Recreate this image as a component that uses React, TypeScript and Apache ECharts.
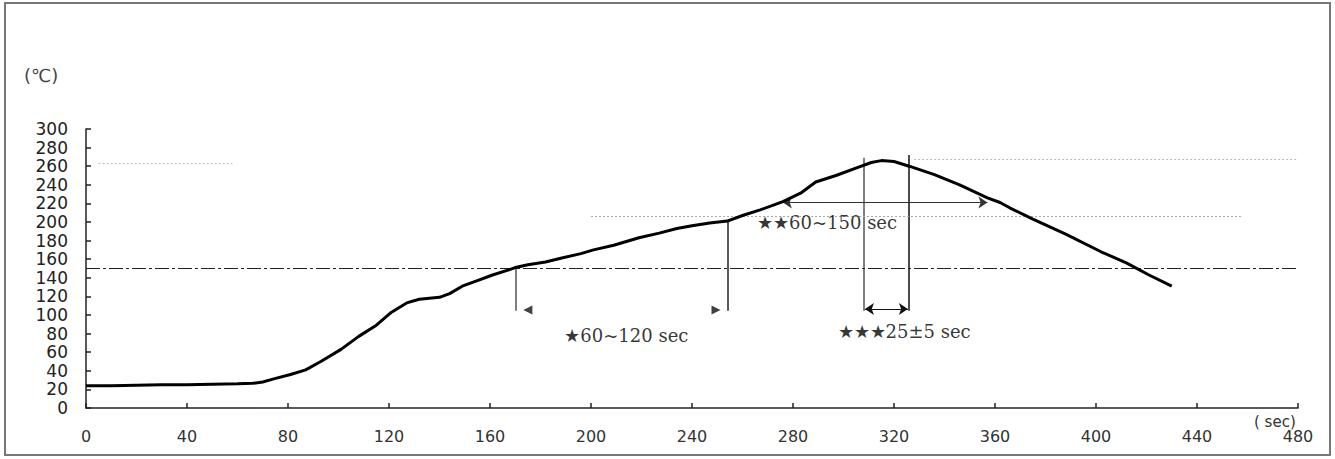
import React, { useEffect, useRef } from "react";
import * as echarts from "echarts";

// Reflow temperature profile (time in sec, temperature in °C)
const times = [0, 10, 20, 30, 40, 50, 60, 66, 70, 74, 81, 87, 93, 101, 108, 115, 121, 127, 132, 140, 144, 149, 155, 161, 168, 170, 175, 182, 188, 196, 201, 209, 214, 219, 227, 234, 240, 247, 254, 260, 267, 276, 283, 289, 297, 306, 311, 315, 320, 326, 336, 346, 357, 362, 366, 375, 388, 402, 412, 421, 430];
const temps = [24, 24, 24.5, 25, 25, 25.5, 26, 26.5, 28, 31, 36, 41, 50, 63, 77, 89, 103, 113, 117, 119, 123, 131, 137, 143, 149, 151, 154, 157, 161, 166, 170, 175, 179, 183, 188, 193, 196, 199, 201, 207, 213, 222, 231, 243, 250, 259, 264, 266, 265, 260, 251, 240, 226, 221, 215, 203, 187, 168, 156, 143, 131];

// Reference levels
const preheatTemp = 150;
const reflowTemp = 221;
const soakTopTemp = 206;
const peakTempLeft = 263;
const peakTempRight = 267;

// Windows (sec)
const preheatWindow = [170, 254];
const preheatTops = [151, 201];
const reflowWindow = [276, 357];
const peakWindow = [308, 326];
const peakTops = [269, 272];
const markerBottom = 104.5;
const arrowLevel = 105.5;
const peakArrowLevel = 106.5;
const preheatArrowTimes = [175, 249.5];

// Dotted guide spans (sec)
const leftPeakSpan = [5, 58];
const soakSpan = [200, 458];
const rightPeakSpan = [328, 480];

// Annotations
const annotationTexts = ["★60~120 sec", "★★60~150 sec", "★★★25±5 sec"];
const annotationTimes = [214, 293.5, 324];
const annotationTemps = [77.5, 200, 82];

// Axis ticks
const xMax = 480;
const xStep = 40;
const yMax = 300;
const yStep = 20;

export default function App() {
  const ref = useRef<HTMLDivElement>(null);

  useEffect(() => {
    document.body.style.margin = "0";
    if (!ref.current) return;
    const chart = echarts.init(ref.current, undefined, { renderer: "svg" });

    const profile = times.map((t, i) => [t, temps[i]]);

    const vertical = (t: number, top: number, color: string) => ({
      coords: [[t, top], [t, markerBottom]],
      lineStyle: { color, width: 1.5, type: "solid", opacity: 1 },
    });

    const option: any = {
      animation: false,
      backgroundColor: "#ffffff",
      grid: { left: 86, right: 37, top: 129, bottom: 51 },
      xAxis: {
        type: "value",
        min: 0,
        max: xMax,
        interval: xStep,
        axisLine: { lineStyle: { color: "#222", width: 1.5 } },
        axisTick: { inside: true, length: 5, lineStyle: { color: "#222", width: 1.5 } },
        axisLabel: { margin: 20, fontSize: 16, color: "#333", fontFamily: "DejaVu Sans" },
        splitLine: { show: false },
      },
      yAxis: {
        type: "value",
        min: 0,
        max: yMax,
        interval: yStep,
        axisLine: { show: true, lineStyle: { color: "#222", width: 1.5 } },
        axisTick: { show: true, inside: true, length: 5, lineStyle: { color: "#222", width: 1.5 } },
        axisLabel: { margin: 18, fontSize: 17, color: "#222", fontFamily: "DejaVu Sans" },
        splitLine: { show: false },
      },
      graphic: [
        {
          type: "rect",
          shape: { x: 5, y: 3, width: 1325, height: 452 },
          style: { fill: "none", stroke: "#777", lineWidth: 2 },
          silent: true,
        },
        {
          type: "text",
          left: 24,
          top: 66,
          style: { text: "(℃)", fontSize: 18, fill: "#444", fontFamily: "DejaVu Sans" },
        },
        {
          type: "text",
          left: 1254,
          top: 414,
          style: { text: "( sec)", fontSize: 15, fill: "#333", fontFamily: "DejaVu Sans" },
        },
      ],
      series: [
        {
          type: "line",
          data: profile,
          showSymbol: false,
          symbol: "none",
          lineStyle: { color: "#000", width: 3 },
          z: 5,
          markLine: {
            silent: true,
            symbol: ["none", "none"],
            label: { show: false },
            lineStyle: { color: "#222", width: 1.2, type: [14, 3, 3, 3] },
            data: [{ yAxis: preheatTemp }],
          },
        },
        {
          type: "lines",
          coordinateSystem: "cartesian2d",
          polyline: false,
          symbol: ["none", "none"],
          silent: true,
          z: 3,
          data: [
            vertical(preheatWindow[0], preheatTops[0], "#555"),
            vertical(preheatWindow[1], preheatTops[1], "#222"),
            vertical(peakWindow[0], peakTops[0], "#555"),
            vertical(peakWindow[1], peakTops[1], "#111"),
            {
              coords: [[leftPeakSpan[0], peakTempLeft], [leftPeakSpan[1], peakTempLeft]],
              lineStyle: { color: "#bbb", width: 1.2, type: [2, 2], opacity: 1 },
            },
            {
              coords: [[rightPeakSpan[0], peakTempRight], [rightPeakSpan[1], peakTempRight]],
              lineStyle: { color: "#bbb", width: 1.2, type: [2, 2], opacity: 1 },
            },
            {
              coords: [[soakSpan[0], soakTopTemp], [soakSpan[1], soakTopTemp]],
              lineStyle: { color: "#aaa", width: 1.2, type: [2, 2], opacity: 1 },
            },
          ],
        },
        {
          type: "lines",
          coordinateSystem: "cartesian2d",
          polyline: false,
          symbol: ["arrow", "arrow"],
          symbolSize: 9,
          silent: true,
          z: 4,
          data: [
            {
              coords: [[reflowWindow[0], reflowTemp], [reflowWindow[1], reflowTemp]],
              lineStyle: { color: "#333", width: 1.2, opacity: 1 },
            },
            {
              coords: [[peakWindow[0] + 0.5, peakArrowLevel], [peakWindow[1] - 0.5, peakArrowLevel]],
              lineStyle: { color: "#111", width: 1.2, opacity: 1 },
            },
          ],
        },
        {
          type: "scatter",
          symbol: "triangle",
          symbolSize: [9, 9],
          silent: true,
          itemStyle: { color: "#111" },
          data: [
            { value: [preheatArrowTimes[0], arrowLevel], symbolRotate: 90 },
            { value: [preheatArrowTimes[1], arrowLevel], symbolRotate: -90 },
          ],
          z: 4,
        },
        {
          type: "scatter",
          symbolSize: 1,
          silent: true,
          itemStyle: { color: "rgba(0,0,0,0)" },
          label: {
            show: true,
            position: "inside",
            fontSize: 18,
            color: "#000",
            fontFamily: "DejaVu Serif",
            formatter: (p: any) => annotationTexts[p.dataIndex],
          },
          data: annotationTimes.map((t, i) => [t, annotationTemps[i]]),
          z: 6,
        },
      ],
    };

    chart.setOption(option);
    return () => chart.dispose();
  }, []);

  return <div ref={ref} style={{ width: 1335, height: 459 }} />;
}
